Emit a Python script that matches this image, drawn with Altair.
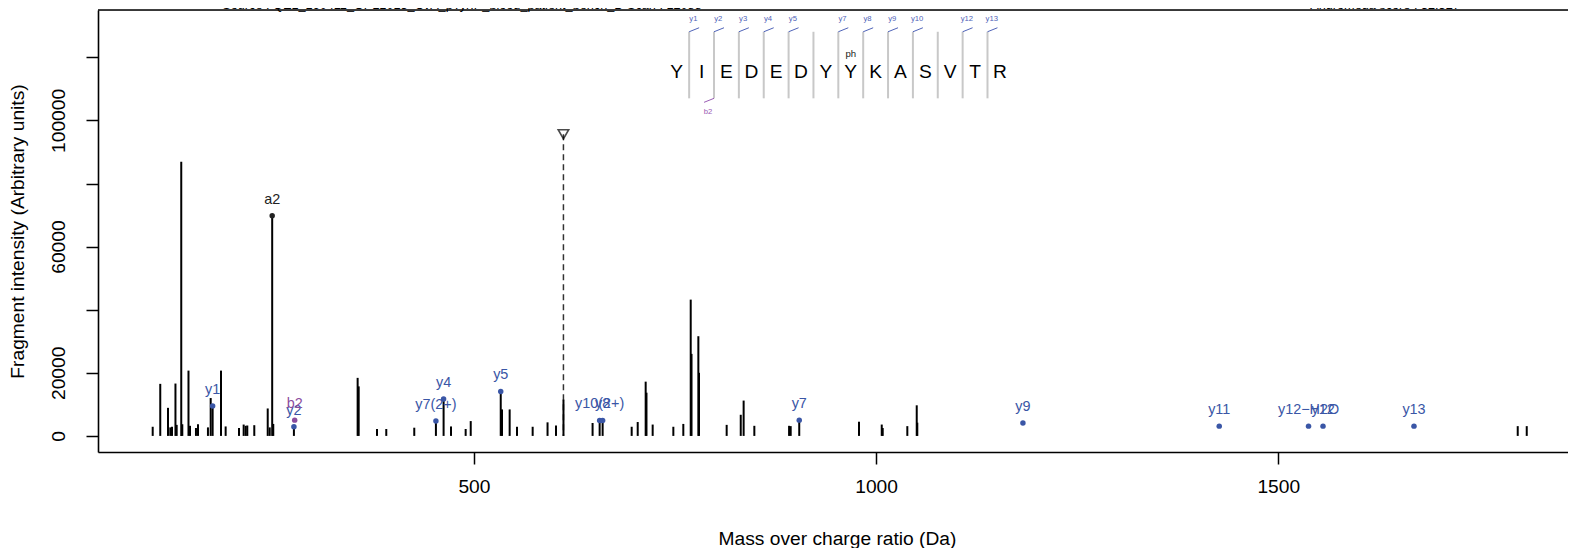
import altair as alt
import pandas as pd

# ---------------- data ----------------
peak_mz = [100.6, 110.0, 119.6, 122.5, 124.6, 128.9, 130.4, 136.1, 137.4, 145.1,
           147.0, 154.4, 156.9, 169.3, 172.7, 175.12, 185.5, 191.3, 207.9, 213.7,
           216.2, 218.2, 226.9, 243.6, 246.1, 249.16, 250.5, 276.17,
           355.4, 356.7, 379.5, 391.0, 425.8, 452.72, 462.27, 471.5, 489.7, 496.0,
           533.30, 534.9, 544.4, 553.5, 573.0, 591.5, 602.0, 611.3, 647.5, 656.28,
           660.0, 696.1, 703.6, 713.5, 714.5, 722.2, 747.9, 760.3, 769.5, 770.5,
           779.0, 779.8, 814.2, 831.7, 835.3, 848.6, 891.8, 893.8, 904.43, 978.7,
           1007.0, 1008.2, 1038.8, 1050.5, 1051.2, 1797.7, 1808.9]
peak_int = [2900, 16500, 8900, 2700, 2900, 16600, 3500, 86900, 3700, 20700,
            3200, 2500, 3700, 2700, 12000, 9500, 20700, 3000, 2500, 3600,
            3200, 3300, 3400, 8700, 2700, 69800, 3800, 2900,
            18400, 15700, 2200, 2200, 2600, 4700, 11700, 3000, 2200, 4700,
            14100, 8400, 8400, 2900, 2900, 4300, 3300, 11500, 4100, 4900,
            4900, 2900, 4400, 17200, 13700, 3600, 2900, 3800, 43200, 26000,
            31600, 20000, 3500, 6700, 11200, 3200, 3200, 3100, 5000, 4500,
            3600, 2500, 3100, 9700, 4200, 3100, 3100]

ann_label = ["y1", "a2", "y2", "b2", "y7(2+)", "y4", "y5", "y10(2+)", "y8", "y7",
             "y9", "y11", "y12\u2212H2O", "y12", "y13"]
ann_mz = [175.12, 249.16, 276.17, 277.15, 452.72, 462.27, 533.30, 656.28, 660.0,
          904.43, 1182.52, 1426.59, 1537.62, 1555.63, 1668.72]
ann_int = [9500, 69800, 2900, 5000, 4700, 11700, 14100, 4900, 4900, 5000,
           4100, 3100, 3100, 3100, 3100]
ann_type = ["y", "a", "y", "b", "y", "y", "y", "y", "y", "y", "y", "y", "y", "y", "y"]

precursor_mz = [611.26]
precursor_mark = [95600]

sequence = list("YIEDEDYYKASVTR")
modified_index = [7]          # "ph" on the 8th residue
modified_text = ["ph"]
y_sep_index = [1, 2, 3, 4, 5, 7, 8, 9, 10, 12, 13]
b_sep_index = [2]

source_text = "Source : QE1_160411_OPL1013_CvA_pTyrIP_blood_patient_bench_D   Scan : 12088"
score_text = "Andromeda score : 32.327"

# ---------------- layout ----------------
W, H = 1470, 442
FONT = "Liberation Sans"
Y_COL, B_COL, A_COL = "#3A56A6", "#8B4C9E", "#222222"

x_scale = alt.Scale(domain=[32.6, 1860.2], nice=False, zero=False)
y_scale = alt.Scale(domain=[-5100, 135000], nice=False, zero=False)

x_axis = alt.Axis(values=[500, 1000, 1500], format="d", grid=False,
                  tickSize=12, tickWidth=1.5, tickColor="black",
                  domainColor="black", domainWidth=1.6,
                  labelFont=FONT, labelFontSize=19.2, labelColor="black",
                  labelPadding=22, labelBaseline="middle", labelAlign="center",
                  labelAngle=0, labelFlush=False, labelOverlap=False,
                  titleFont=FONT, titleFontSize=19.2, titleFontWeight="normal",
                  titleColor="black", titleY=86, titleBaseline="middle",
                  titleX=739, titleAlign="center")
y_axis = alt.Axis(values=[0, 20000, 40000, 60000, 80000, 100000, 120000],
                  labelExpr="(datum.value == 40000 || datum.value == 80000 || datum.value == 120000) ? '' : datum.value",
                  grid=False, tickSize=12, tickWidth=1.5, tickColor="black",
                  domainColor="black", domainWidth=1.6,
                  labelFont=FONT, labelFontSize=19.2, labelColor="black",
                  labelPadding=28, labelBaseline="middle", labelAlign="center",
                  labelAngle=270, labelFlush=False, labelOverlap=False,
                  titleFont=FONT, titleFontSize=19.2, titleFontWeight="normal",
                  titleColor="black", titleAngle=270, titleX=-81, titleY=H / 2,
                  titleBaseline="middle", titleAlign="center")

X = alt.X("mz:Q", scale=x_scale, axis=x_axis, title="Mass over charge ratio (Da)")
Y = alt.Y("inten:Q", scale=y_scale, axis=y_axis, title="Fragment intensity (Arbitrary units)")

peaks = pd.DataFrame({"mz": peak_mz, "inten": peak_int, "base": 0})
ann = pd.DataFrame({"mz": ann_mz, "inten": ann_int, "label": ann_label, "type": ann_type})
prec = pd.DataFrame({"mz": precursor_mz, "inten": precursor_mark, "base": 0})

color = alt.Color("type:N", scale=alt.Scale(domain=["y", "b", "a"], range=[Y_COL, B_COL, A_COL]), legend=None)

stick_layer = alt.Chart(peaks).mark_rule(color="black", strokeWidth=2).encode(
    x=X, y=Y, y2="base:Q")
prec_line = alt.Chart(prec).mark_rule(color="#333333", strokeWidth=1.5, strokeDash=[6, 4]).encode(
    x=X, y=Y, y2="base:Q")
prec_mark = alt.Chart(prec).mark_point(shape="triangle-down", filled=False, size=110,
                                        color="black", strokeWidth=1.6).encode(x=X, y=Y)
points = alt.Chart(ann).mark_circle(size=30, opacity=1).encode(x=X, y=Y, color=color)
labels = alt.Chart(ann).mark_text(font=FONT, fontSize=14.4, dy=-16, baseline="middle").encode(
    x=X, y=Y, text="label:N", color=color)

# ---- peptide sequence annotation (positions in data units) ----
seq_x0, seq_step = 752.1, 30.91
letter_y = 115400
sep_top, sep_bot = 128100, 107000
seq_df = pd.DataFrame({"mz": [seq_x0 + i * seq_step for i in range(len(sequence))],
                       "inten": [letter_y] * len(sequence), "aa": sequence})
seps = list(range(1, len(sequence)))
sep_df = pd.DataFrame({"mz": [seq_x0 + (i - 0.5) * seq_step for i in seps],
                       "inten": [sep_top] * len(seps), "inten2": [sep_bot] * len(seps)})
ybr = pd.DataFrame({"mz": [seq_x0 + (i - 0.5) * seq_step for i in y_sep_index],
                    "inten": [sep_top] * len(y_sep_index),
                    "label": ["y%d" % i for i in y_sep_index]})
ybr["mz2"] = ybr["mz"] + 12.4
ybr["inten2"] = ybr["inten"] + 1270
ybr["lx"] = ybr["mz"] + 5.3
ybr["ly"] = 132200
bbr = pd.DataFrame({"mz": [seq_x0 + (i - 0.5) * seq_step for i in b_sep_index],
                    "inten": [sep_bot] * len(b_sep_index),
                    "label": ["b%d" % i for i in b_sep_index]})
bbr["mz2"] = bbr["mz"] - 12.4
bbr["inten2"] = bbr["inten"] - 1270
bbr["lx"] = bbr["mz"] - 7.5
bbr["ly"] = 102600
mod_df = pd.DataFrame({"mz": [seq_x0 + i * seq_step for i in modified_index],
                       "inten": [121000] * len(modified_index), "t": modified_text})

LX = alt.X("lx:Q", scale=x_scale, axis=x_axis, title="Mass over charge ratio (Da)")
LY = alt.Y("ly:Q", scale=y_scale, axis=y_axis, title="Fragment intensity (Arbitrary units)")

letters = alt.Chart(seq_df).mark_text(font=FONT, fontSize=19.2, color="black", baseline="middle").encode(
    x=X, y=Y, text="aa:N")
sep_layer = alt.Chart(sep_df).mark_rule(color="#C8C8C8", strokeWidth=2).encode(x=X, y=Y, y2="inten2:Q")
ybr_layer = alt.Chart(ybr).mark_rule(color="#4F63B8", strokeWidth=1).encode(
    x=X, y=Y, x2="mz2:Q", y2="inten2:Q")
ybr_text = alt.Chart(ybr).mark_text(font=FONT, fontSize=7.7, color="#4F63B8", baseline="middle").encode(
    x=LX, y=LY, text="label:N")
bbr_layer = alt.Chart(bbr).mark_rule(color="#9A5CB4", strokeWidth=1).encode(
    x=X, y=Y, x2="mz2:Q", y2="inten2:Q")
bbr_text = alt.Chart(bbr).mark_text(font=FONT, fontSize=7.7, color="#9A5CB4", baseline="middle").encode(
    x=LX, y=LY, text="label:N")
mod_text = alt.Chart(mod_df).mark_text(font=FONT, fontSize=9.6, color="#222222", baseline="middle").encode(
    x=X, y=Y, text="t:N")

# frame top line and header texts
top_line = alt.Chart(pd.DataFrame({"d": [0]})).mark_rule(color="black", strokeWidth=1.6).encode(
    x=alt.value(0), x2=alt.value(W), y=alt.value(0))
head = pd.DataFrame({"t": [source_text, score_text], "px": [364, 1287]})
head_layer = alt.Chart(head).mark_text(font=FONT, fontSize=12.7, color="black", baseline="alphabetic").encode(
    x=alt.X("px:Q", scale=None), y=alt.value(-1), text="t:N")

chart = alt.layer(
    sep_layer, ybr_layer, bbr_layer, letters, ybr_text, bbr_text, mod_text,
    prec_line, prec_mark, stick_layer, points, labels, top_line, head_layer
).properties(
    width=W, height=H,
    autosize=alt.AutoSizeParams(type="none"),
    padding={"left": 90, "top": 2, "right": 0, "bottom": 96},
).configure_view(stroke=None).configure(background="white")

chart.save("out.html", embed_options={"renderer": "svg", "actions": False})
